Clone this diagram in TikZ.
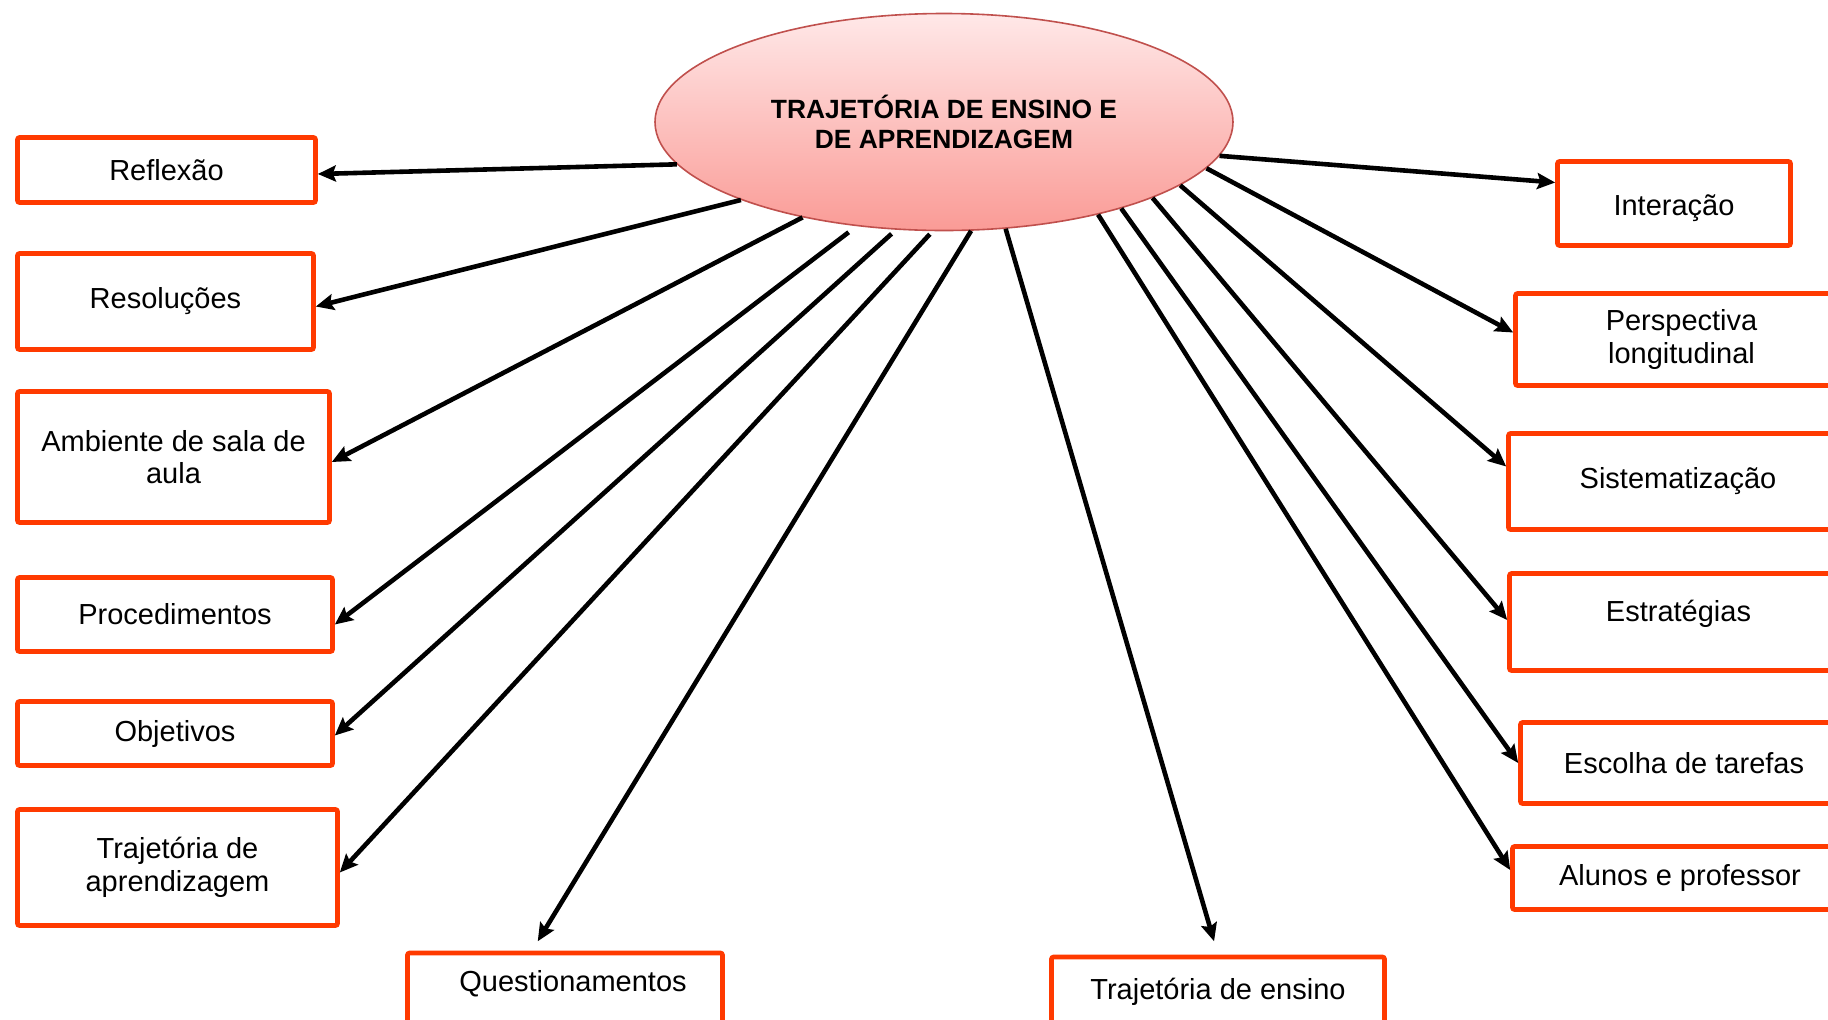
\documentclass[tikz,border=0pt]{standalone}
\usepackage{fontspec}
\setmainfont{Liberation Sans}
\usetikzlibrary{shapes.geometric, arrows.meta, positioning}
\definecolor{boxred}{RGB}{255,58,0}
\definecolor{ovalline}{RGB}{192,80,77}
\definecolor{ovaltop}{RGB}{255,232,232}
\definecolor{ovalbot}{RGB}{250,155,150}

\begin{document}
\begin{tikzpicture}[x=0.5pt, y=-0.5pt,
  box/.style={draw=boxred, line width=2.3pt, rounded corners=1pt, align=center,
    inner sep=0pt, font=\fontsize{14.5}{16.3}\selectfont},
  link/.style={line width=2.3pt, -{Stealth[length=9pt,width=8pt,inset=1.5pt]}}]
\clip (0,0) rectangle (1828,1019);

% central oval
\node[ellipse, draw=ovalline, line width=0.8pt, top color=ovaltop, bottom color=ovalbot,
  minimum width=289pt, minimum height=108.5pt, inner sep=0pt, align=center,
  font=\fontsize{13.2}{15.2}\selectfont\bfseries] (core) at (944,122)
  {TRAJETÓRIA DE ENSINO E\\DE APRENDIZAGEM};

% left column
\node[box, minimum width=149pt, minimum height=32.5pt] (reflexao) at (166.5,170) {Reflexão};
\node[box, minimum width=148pt, minimum height=48pt] (resolucoes) at (165.5,301.5) {Resoluções};
\node[box, minimum width=156pt, minimum height=65.5pt] (ambiente) at (173.5,457) {Ambiente de sala de\\aula};
\node[box, minimum width=157.5pt, minimum height=37pt] (procedimentos) at (175,614.5) {Procedimentos};
\node[box, minimum width=157.5pt, minimum height=32pt] (objetivos) at (175,733.5) {Objetivos};
\node[box, minimum width=160pt, minimum height=58pt] (trajaprend) at (177.5,867.5) {Trajetória de\\aprendizagem};

% bottom row
\node[box, anchor=base, minimum width=157.5pt, text height=19pt, text depth=40pt] (questionamentos) at (565,991) {\hspace*{8pt}Questionamentos};
\node[box, anchor=base, minimum width=166.5pt, text height=21pt, text depth=40pt] (trajensino) at (1218,999) {Trajetória de ensino};

% right column
\node[box, minimum width=116.5pt, minimum height=42pt, text height=15pt] (interacao) at (1674,203.5) {Interação};
\node[box, minimum width=166pt, minimum height=46pt] (perspectiva) at (1681.5,339.5) {Perspectiva\\longitudinal};
\node[box, minimum width=169.5pt, minimum height=48pt] (sistematizacao) at (1678,481.5) {Sistematização};
\node[box, minimum width=169pt, minimum height=48.5pt, text depth=11pt] (estrategias) at (1678.5,622) {Estratégias};
\node[box, minimum width=163.5pt, minimum height=40.5pt] (escolha) at (1684,763) {Escolha de tarefas};
\node[box, minimum width=167.5pt, minimum height=31.5pt] (alunos) at (1680,878) {Alunos e professor};

% arrows
\draw[link] (core.189) -- ([yshift=-2pt]reflexao.east);
\draw[link] (core.201) -- ([yshift=-2.5pt]resolucoes.east);
\draw[link] (core.214) -- ([yshift=-2.5pt]ambiente.east);
\draw[link, shorten <=5pt] (core.230) -- ([yshift=-5pt]procedimentos.east);
\draw[link, shorten <=3pt] (core.246) -- ([yshift=-1pt]objetivos.east);
\draw[link, shorten <=2pt] (core.264) -- ([yshift=-2.5pt]trajaprend.east);
\draw[link, shorten >=5.5pt] (core.284) -- ([xshift=-16.5pt]questionamentos.north);
\draw[link, shorten >=7pt] (core.300) -- (trajensino.north);
\draw[link] (core.329) -- ([yshift=4pt]alunos.west);
\draw[link] (core.334) -- (escolha.west);
\draw[link] (core.340) -- ([yshift=1pt]estrategias.west);
\draw[link] (core.345.6) -- ([yshift=7.5pt]sistematizacao.west);
\draw[link] (core.350) -- ([yshift=3.5pt]perspectiva.west);
\draw[link] (core.353) -- ([yshift=10.5pt]interacao.west);

\end{tikzpicture}
\end{document}
